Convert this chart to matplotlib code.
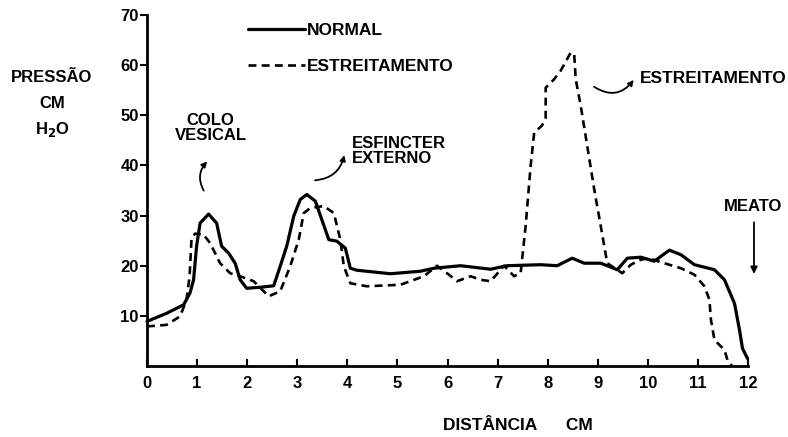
import numpy as np
from matplotlib import pyplot as plt

# tracado (distancia em cm, pressao em cm H2O)
x_normal = [0.0, 0.39, 0.73, 0.86, 0.93, 0.99, 1.06, 1.23, 1.39, 1.49, 1.63, 1.76, 1.86, 1.99,
            2.26, 2.53, 2.66, 2.79, 2.93, 3.06, 3.19, 3.36, 3.49, 3.63, 3.79, 3.96, 4.06, 4.19,
            4.86, 5.46, 5.73, 6.26, 6.86, 7.19, 7.86, 8.19, 8.49, 8.73, 9.06, 9.39, 9.59, 9.86,
            10.13, 10.43, 10.66, 10.93, 11.33, 11.53, 11.73, 11.83, 11.89, 11.99]
y_normal = [8.9, 10.5, 12.2, 14.6, 17.2, 23.9, 28.5, 30.3, 28.5, 23.9, 22.5, 20.5, 17.2, 15.5,
            15.7, 16.0, 19.9, 23.9, 29.9, 33.2, 34.2, 32.9, 29.2, 25.2, 24.9, 23.5, 19.5, 19.1,
            18.4, 18.9, 19.5, 20.0, 19.3, 20.0, 20.2, 20.0, 21.5, 20.5, 20.5, 19.2, 21.5, 21.7,
            20.9, 23.1, 22.2, 20.2, 19.2, 17.2, 12.5, 7.2, 3.5, 1.5]

x_estreit = [0.0, 0.39, 0.66, 0.79, 0.85, 0.89, 0.96, 1.13, 1.26, 1.46, 1.66, 1.86, 2.13, 2.43,
             2.66, 2.86, 3.03, 3.13, 3.26, 3.53, 3.73, 3.86, 3.93, 4.06, 4.39, 5.06, 5.53, 5.79,
             6.03, 6.19, 6.46, 6.66, 6.86, 7.13, 7.33, 7.46, 7.56, 7.66, 7.73, 7.89, 7.96, 7.96,
             8.13, 8.26, 8.46, 8.53, 8.56, 8.66, 8.79, 8.93, 9.06, 9.19, 9.49, 9.66, 9.86, 10.03,
             10.26, 10.66, 10.93, 11.13, 11.23, 11.26, 11.33, 11.53, 11.59, 11.68]
y_estreit = [7.9, 8.2, 9.9, 13.2, 17.9, 25.5, 26.4, 26.2, 24.5, 20.5, 18.5, 17.9, 16.9, 13.9,
             14.9, 19.9, 25.2, 30.5, 31.5, 31.9, 30.5, 25.2, 19.9, 16.5, 15.9, 16.2, 17.9, 20.0,
             18.2, 16.9, 17.9, 17.2, 16.9, 20.0, 17.9, 18.5, 27.9, 39.9, 46.5, 48.0, 49.5, 55.5,
             57.2, 58.9, 62.5, 62.2, 57.2, 51.9, 43.9, 35.2, 27.9, 20.5, 18.5, 20.2, 21.2, 21.5,
             20.7, 19.5, 18.2, 15.9, 13.2, 9.2, 5.2, 3.2, 1.2, 0.0]

x_ticks = list(range(0, 13))
y_ticks = [10, 20, 30, 40, 50, 60, 70]

plt.rcParams['font.family'] = ['Liberation Sans', 'DejaVu Sans']
plt.rcParams['font.weight'] = 'bold'
plt.rcParams['mathtext.default'] = 'bf'

W, H = 788, 437
fig = plt.figure(figsize=(W / 100, H / 100), dpi=100)
ax = fig.add_axes([147 / W, 71 / H, 601 / W, 351 / H])

ax.plot(x_normal, y_normal, color='black', lw=2.3, solid_capstyle='round',
        solid_joinstyle='round', label='NORMAL', clip_on=False)
ax.plot(x_estreit, y_estreit, color='black', lw=1.9, linestyle=(0, (3, 2)),
        label='ESTREITAMENTO', clip_on=False)

ax.set_xlim(0, 12)
ax.set_ylim(0, 70)
ax.set_xticks(x_ticks)
ax.set_yticks(y_ticks)
ax.tick_params(axis='x', direction='in', length=5, width=1.5, labelsize=12, pad=7)
ax.tick_params(axis='y', direction='out', length=5, width=1.5, labelsize=12, pad=1)
for s in ['top', 'right']:
    ax.spines[s].set_visible(False)
for s in ['left', 'bottom']:
    ax.spines[s].set_linewidth(2)

leg = ax.legend(loc='upper left', bbox_to_anchor=(0.168, 0.978), frameon=False,
                handlelength=3.3, handletextpad=0.1, labelspacing=1.2, borderpad=0,
                borderaxespad=0, prop={'size': 12.5, 'weight': 'bold'})

# anotacoes
ax.text(1.27, 47.5, 'COLO\nVESICAL', ha='center', va='center', fontsize=12,
        linespacing=1.0)
ax.annotate('', xy=(1.24, 41.2), xytext=(1.16, 34.5),
            arrowprops=dict(arrowstyle='-|>', color='black', lw=1.3,
                            connectionstyle='arc3,rad=-0.4', mutation_scale=8))
ax.text(4.1, 42.8, 'ESFINCTER\nEXTERNO', ha='left', va='center', fontsize=12,
        linespacing=1.0)
ax.annotate('', xy=(3.95, 42.6), xytext=(3.3, 37.0),
            arrowprops=dict(arrowstyle='-|>', color='black', lw=1.3,
                            connectionstyle='arc3,rad=0.4', mutation_scale=8))
ax.text(9.85, 57.3, 'ESTREITAMENTO', ha='left', va='center', fontsize=12.5)
ax.annotate('', xy=(9.75, 57.5), xytext=(8.88, 56.0),
            arrowprops=dict(arrowstyle='-|>', color='black', lw=1.3,
                            connectionstyle='arc3,rad=0.5', mutation_scale=8))
ax.text(12.1, 31.8, 'MEATO', ha='center', va='center', fontsize=12, clip_on=False)
ax.annotate('', xy=(12.12, 17.8), xytext=(12.12, 29.2), annotation_clip=False,
            arrowprops=dict(arrowstyle='-|>', color='black', lw=1.3, mutation_scale=10))

fig.text(52 / W, 1 - 77 / H, 'PRESSÃO', ha='center', va='center', fontsize=12)
fig.text(52 / W, 1 - 104 / H, 'CM', ha='center', va='center', fontsize=12)
fig.text(52 / W, 1 - 130 / H, 'H$_2$O', ha='center', va='center', fontsize=12)
fig.text(518 / W, 1 - 425 / H, 'DISTÂNCIA      CM', ha='center', va='center', fontsize=12.5)

fig.savefig('out.png', dpi=100)
